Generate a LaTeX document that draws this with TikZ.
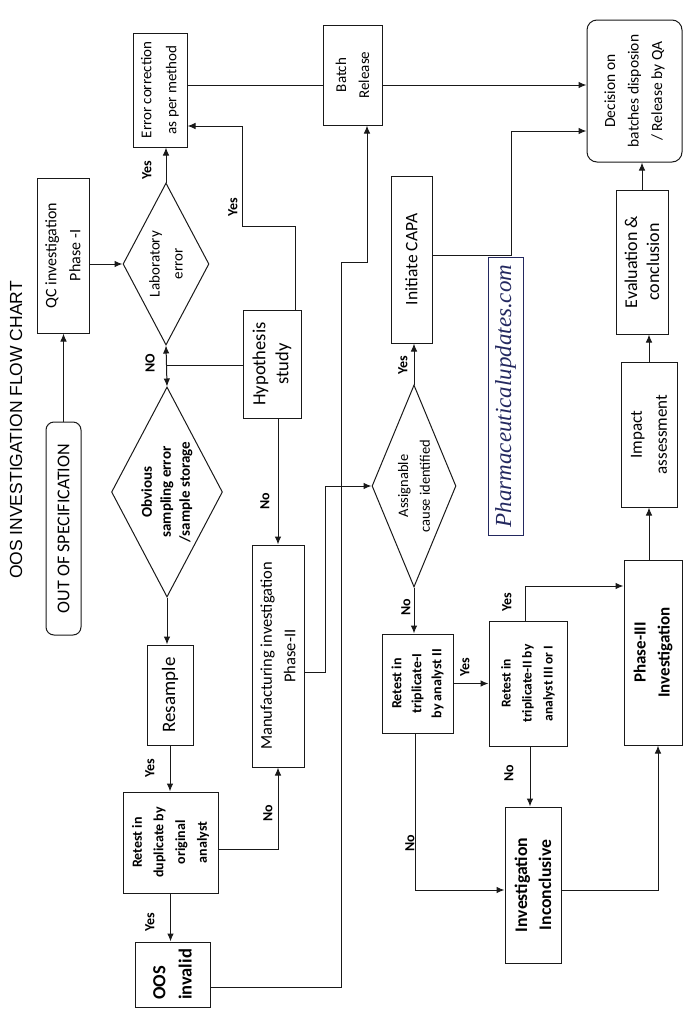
\documentclass[tikz,border=0pt]{standalone}
\usepackage{fontspec}
\setmainfont{Carlito}
\newfontfamily\titlefont{Liberation Sans}
\newfontfamily\handfont{Liberation Serif}
\usetikzlibrary{shapes.geometric,arrows.meta}
\definecolor{ink}{RGB}{35,40,95}
\definecolor{linec}{RGB}{25,25,25}
\begin{document}
\begin{tikzpicture}[x=1pt,y=-1pt,
  line width=1pt, draw=linec,
  box/.style={draw=linec, rotate=90, inner sep=0pt, align=center},
  dia/.style={draw=linec, diamond, rotate=90, inner sep=0pt},
  txt/.style={rotate=90, inner sep=0pt, align=center},
  lbl/.style={rotate=90, inner sep=0pt, font=\bfseries\fontsize{14}{14}\selectfont},
  arr/.style={-{Latex[length=8pt,width=6.5pt]}}
]
\fill[white] (0,0) rectangle (695,1023);
\useasboundingbox (0,0) rectangle (695,1023);

% title
\node[txt, font=\titlefont\fontsize{17.5}{20}\selectfont] (title) at (16,430) {OOS INVESTIGATION FLOW CHART};

% boxes
\node[box, rounded corners=8pt, minimum width=213pt, minimum height=35pt, font=\fontsize{18}{20}\selectfont] (oos) at (63.5,528.5) {OUT OF SPECIFICATION};
\node[box, minimum width=155pt, minimum height=52pt, font=\fontsize{16}{24}\selectfont] (qc) at (63,255.5) {QC investigation\\Phase -I};
\node[dia, minimum width=162pt, minimum height=86pt] (lab) at (166,264) {};
\node[txt, font=\fontsize{15}{23}\selectfont] (labt) at (lab) {Laboratory\\error};
\node[box, minimum width=114pt, minimum height=54pt, font=\fontsize{15}{25}\selectfont] (err) at (160,90) {Error correction\\as per method};
\node[dia, minimum width=210pt, minimum height=111pt] (obv) at (167,492) {};
\node[txt, font=\bfseries\fontsize{15}{19}\selectfont] (obvt) at (obv) {Obvious\\sampling error\\/sample storage};
\node[box, minimum width=108pt, minimum height=58pt, font=\fontsize{18.5}{23}\selectfont] (hyp) at (272,364) {Hypothesis\\study};
\node[box, minimum width=100pt, minimum height=46pt, font=\fontsize{19}{20}\selectfont] (res) at (170,695) {Resample};
\node[box, minimum width=101pt, minimum height=95pt, font=\bfseries\fontsize{14}{21.7}\selectfont] (dup) at (170.5,842.5) {Retest in\\duplicate by\\original\\analyst};
\node[box, align=left, minimum width=65pt, minimum height=75pt, font=\bfseries\fontsize{18.5}{26}\selectfont] (inv) at (172.5,974.5) {OOS\\invalid};
\node[box, minimum width=222pt, minimum height=52pt, font=\fontsize{16.5}{23.5}\selectfont] (man) at (278,656) {Manufacturing investigation\\Phase-II};
\node[box, minimum width=100pt, minimum height=59pt, font=\fontsize{15}{23}\selectfont] (bat) at (352.5,75) {Batch\\Release};
\node[box, minimum width=167pt, minimum height=41pt, font=\fontsize{17.5}{20}\selectfont] (capa) at (411.5,259.5) {Initiate CAPA};
\node[dia, minimum width=202pt, minimum height=84pt] (asg) at (414,486) {};
\node[txt, font=\fontsize{14.5}{21.7}\selectfont] (asgt) at (asg) {Assignable\\cause identified};
\node[box, minimum width=99pt, minimum height=71pt, font=\bfseries\fontsize{14}{20}\selectfont] (tr1) at (417.5,683.5) {Retest in\\triplicate-I\\by analyst II};
\node[box, minimum width=125pt, minimum height=78pt, font=\bfseries\fontsize{13.5}{21}\selectfont] (tr2) at (528,683.5) {Retest in\\triplicate-II by\\analyst III or I};
\node[box, minimum width=156pt, minimum height=56pt, font=\bfseries\fontsize{17.7}{24}\selectfont] (inc) at (533,885) {Investigation\\Inconclusive};
\node[box, minimum width=185pt, minimum height=58pt, font=\bfseries\fontsize{17}{24}\selectfont] (ph3) at (653,652.5) {Phase-III\\Investigation};
\node[box, minimum width=145pt, minimum height=56pt, font=\fontsize{17}{25}\selectfont] (imp) at (649,434.5) {Impact\\assessment};
\node[box, minimum width=144pt, minimum height=52pt, font=\fontsize{18}{22}\selectfont] (eva) at (642,262) {Evaluation \&\\conclusion};
\node[box, rounded corners=10pt, minimum width=142pt, minimum height=95pt, font=\fontsize{15.5}{23.5}\selectfont] (dec) at (634.5,91) {Decision on\\batches disposion\\/ Release by QA};

% handwritten watermark
\node[box, draw=ink, line width=0.8pt, minimum width=278pt, minimum height=35pt, text=ink, font=\handfont\itshape\fontsize{23}{23}\selectfont] (wm) at (505.5,396) {Pharmaceuticalupdates.com};

% helper coordinates
\coordinate (yA) at (0,85);
\coordinate (c1) at (511,255);
\coordinate (c2) at (511,131);
\coordinate (h1) at (295,226);
\coordinate (h2) at (242,226);
\coordinate (h3) at (242,126);
\coordinate (j) at (166.5,365);
\coordinate (d1) at (278,849);
\coordinate (m1) at (325,672);
\coordinate (m2) at (325,486);
\coordinate (o1) at (341,987);
\coordinate (o2) at (341,262);
\coordinate (o3) at (367,262);
\coordinate (t1) at (525,586);
\coordinate (t2) at (530,0);
\coordinate (t3) at (415,890);
\coordinate (t4) at (658,890);

% connectors
\draw[arr] (oos.east) -- (oos.east |- qc.west);
\draw[arr] (qc.south |- lab.center) -- (lab.north);
\draw[arr] (lab.east) -- (lab.east |- err.west);
\draw (err.south |- yA) -- (bat.north |- yA);
\draw[arr] (bat.south |- yA) -- (dec.north |- yA);
\draw[arr] (capa.south |- c1) -- (c1) -- (c2) -- (dec.north |- c2);
\draw[arr] (eva.east) -- (eva.east |- dec.west);
\draw[arr] (imp.east) -- (imp.east |- eva.west);
\draw[arr] (imp.west |- ph3.east) -- (imp.west);
\draw[arr] (hyp.east -| h1) -- (h1) -- (h2) -- (h3) -- (err.south |- h3);
\draw (hyp.north |- j) -- (j);
\draw[arr] (j) -- (lab.west);
\draw[arr] (j) -- (obv.east);
\draw[arr] (hyp.west -| man.east) -- (man.east);
\draw[arr] (obv.west) -- (obv.west |- res.east);
\draw[arr] (res.west) -- (res.west |- dup.east);
\draw[arr] (dup.west) -- (dup.west |- inv.east);
\draw[arr] (dup.south |- d1) -- (d1) -- (man.west);
\draw[arr] (man.south |- m1) -- (m1) -- (m2) -- (asg.north);
\draw[arr] (inv.south |- o1) -- (o1) -- (o2) -- (o3) -- (o3 |- bat.west);
\draw[arr] (asg.east) -- (asg.east |- capa.west);
\draw[arr] (asg.west) -- (asg.west |- tr1.east);
\draw[arr] (tr1.south) -- (tr1.south -| tr2.north);
\draw[arr] (tr2.east -| t1) -- (t1) -- (ph3.north |- t1);
\draw[arr] (tr2.west -| t2) -- (inc.east -| t2);
\draw[arr] (tr1.west -| t3) -- (t3) -- (inc.north |- t3);
\draw[arr] (inc.south |- t4) -- (t4) -- (t4 |- ph3.west);

% labels
\node[lbl] (y1) at (147,170) {Yes};
\node[lbl] (y2) at (233,207) {Yes};
\node[lbl] (n1) at (150,363) {NO};
\node[lbl] (n2) at (265,501) {No};
\node[lbl] (y3) at (150,768) {Yes};
\node[lbl] (y4) at (150,922) {Yes};
\node[lbl] (n3) at (268,813) {No};
\node[lbl] (y5) at (403,365) {Yes};
\node[lbl] (n4) at (406,607) {No};
\node[lbl] (y6) at (465,667) {Yes};
\node[lbl] (y7) at (507,602) {Yes};
\node[lbl] (n5) at (509,773) {No};
\node[lbl] (n6) at (410,843) {No};
\end{tikzpicture}
\end{document}
